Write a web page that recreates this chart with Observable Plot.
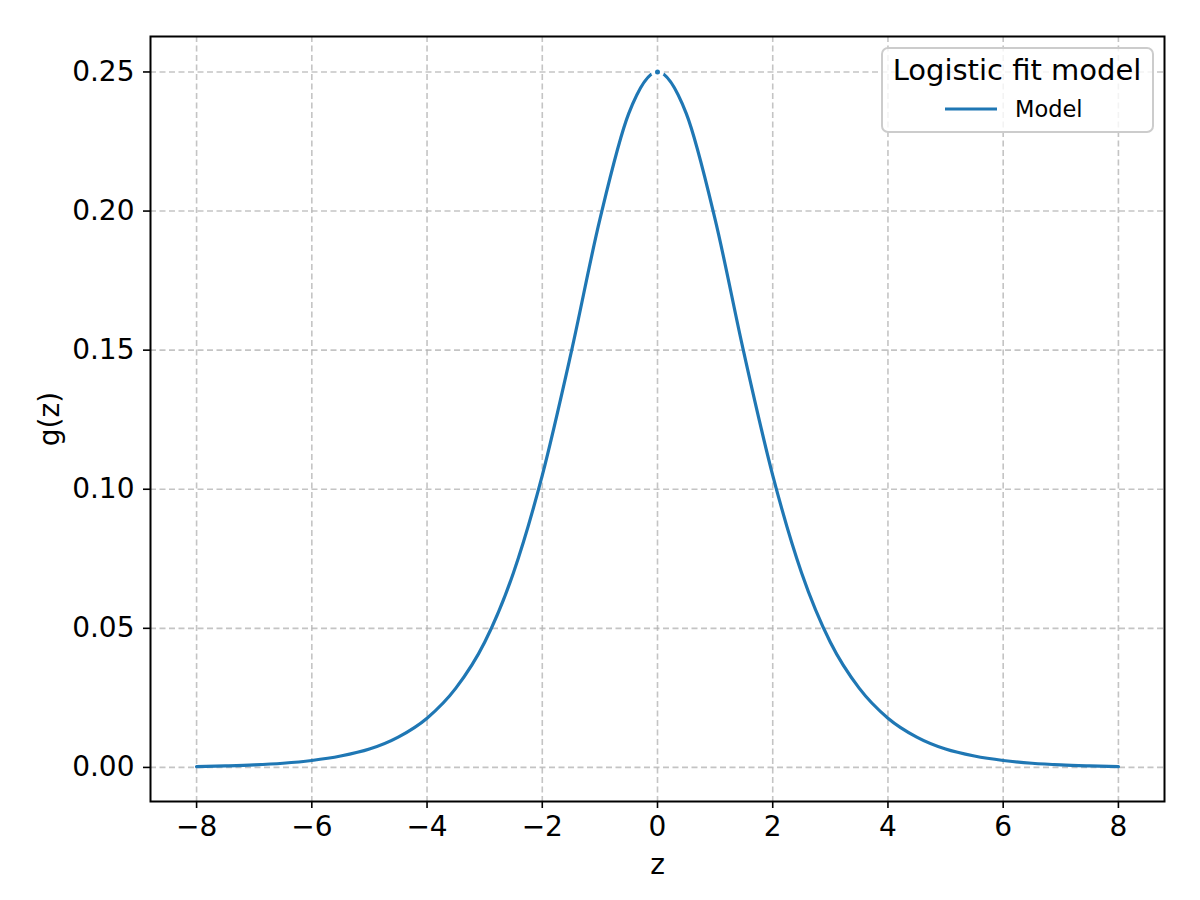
<!DOCTYPE html>
<html>
<head>
<meta charset="utf-8">
<script src="https://cdn.jsdelivr.net/npm/d3@7"></script>
<script src="https://cdn.jsdelivr.net/npm/@observablehq/plot@0.6"></script>
<style>
  html, body { margin: 0; padding: 0; background: #fff; }
  #chart { width: 1200px; height: 900px; }
</style>
</head>
<body>
<div id="chart"></div>
<script>
// z values and g(z) values
const zValues = [-8, -7.5, -7, -6.5, -6, -5.5, -5, -4.5, -4, -3.5, -3, -2.5, -2, -1.5, -1, -0.5,
  0, 0.5, 1, 1.5, 2, 2.5, 3, 3.5, 4, 4.5, 5, 5.5, 6, 6.5, 7, 7.5, 8];
const gValues = [0.0003, 0.00055, 0.0009, 0.0015, 0.0025, 0.0041, 0.0066, 0.0109, 0.0177, 0.0285, 0.045, 0.070, 0.105, 0.149, 0.197, 0.235,
  0.25, 0.235, 0.197, 0.149, 0.105, 0.070, 0.045, 0.0285, 0.0177, 0.0109, 0.0066, 0.0041, 0.0025, 0.0015, 0.0009, 0.00055, 0.0003];
const peakZ = [0];
const peakG = [0.25];
const xTicks = [-8, -6, -4, -2, 0, 2, 4, 6, 8];
const yTicks = [0, 0.05, 0.10, 0.15, 0.20, 0.25];
const seriesName = "Model";
const legendTitle = "Logistic fit model";
const xLabel = "z";
const yLabel = "g(z)";

const curve = zValues.map((z, i) => ({z, g: gValues[i]}));
const peak = peakZ.map((z, i) => ({z, g: peakG[i]}));
const blue = "#1f77b4";
const fmtX = d => String(d).replace("-", "\u2212");
const gridStyle = {stroke: "#b0b0b0", strokeOpacity: 0.75, strokeWidth: 1.6, strokeDasharray: "6,3.5"};

const chart = Plot.plot({
  width: 1200,
  height: 900,
  marginLeft: 150,
  marginRight: 36,
  marginTop: 36,
  marginBottom: 99,
  style: {fontFamily: "'DejaVu Sans', sans-serif", fontSize: "28px", color: "black", background: "white"},
  x: {domain: [-8.8, 8.8]},
  y: {domain: [-0.01225, 0.26275]},
  marks: [
    Plot.gridX(xTicks, gridStyle),
    Plot.gridY(yTicks, gridStyle),
    Plot.line(curve, {x: "z", y: "g", stroke: blue, strokeWidth: 3.2, curve: "monotone-x"}),
    Plot.dot(peak, {x: "z", y: "g", r: 4.5, fill: blue, stroke: "white", strokeWidth: 4}),
    Plot.axisX(xTicks, {anchor: "bottom", tickSize: 7, tickPadding: 8, strokeWidth: 1.6, tickFormat: fmtX, label: null}),
    Plot.axisY(yTicks, {anchor: "left", tickSize: 7, tickPadding: 9, strokeWidth: 1.6, tickFormat: d3.format(".2f"), label: null}),
    Plot.frame({stroke: "black", strokeWidth: 2}),
    Plot.text([xLabel], {frameAnchor: "bottom", lineAnchor: "middle", textAnchor: "middle", dy: 64, fontSize: 28, fill: "black"}),
    Plot.text([yLabel], {frameAnchor: "left", lineAnchor: "middle", textAnchor: "middle", dx: -100, rotate: -90, fontSize: 28, fill: "black"})
  ]
});

document.getElementById("chart").appendChild(chart);

// Legend (matplotlib-style box in the upper right)
const svg = d3.select(chart);
const lg = svg.append("g").attr("font-family", "'DejaVu Sans', sans-serif");
lg.append("rect")
  .attr("x", 882).attr("y", 48).attr("width", 271).attr("height", 84)
  .attr("rx", 6).attr("ry", 6)
  .attr("fill", "white").attr("fill-opacity", 0.8)
  .attr("stroke", "#cccccc").attr("stroke-width", 2);
lg.append("text")
  .attr("x", 1017).attr("y", 80).attr("text-anchor", "middle")
  .attr("font-size", 29).attr("fill", "black").text(legendTitle);
lg.append("line")
  .attr("x1", 945).attr("x2", 997).attr("y1", 109).attr("y2", 109)
  .attr("stroke", blue).attr("stroke-width", 3.2);
lg.append("text")
  .attr("x", 1015).attr("y", 117).attr("text-anchor", "start")
  .attr("font-size", 22.5).attr("fill", "black").text(seriesName);
</script>
</body>
</html>
